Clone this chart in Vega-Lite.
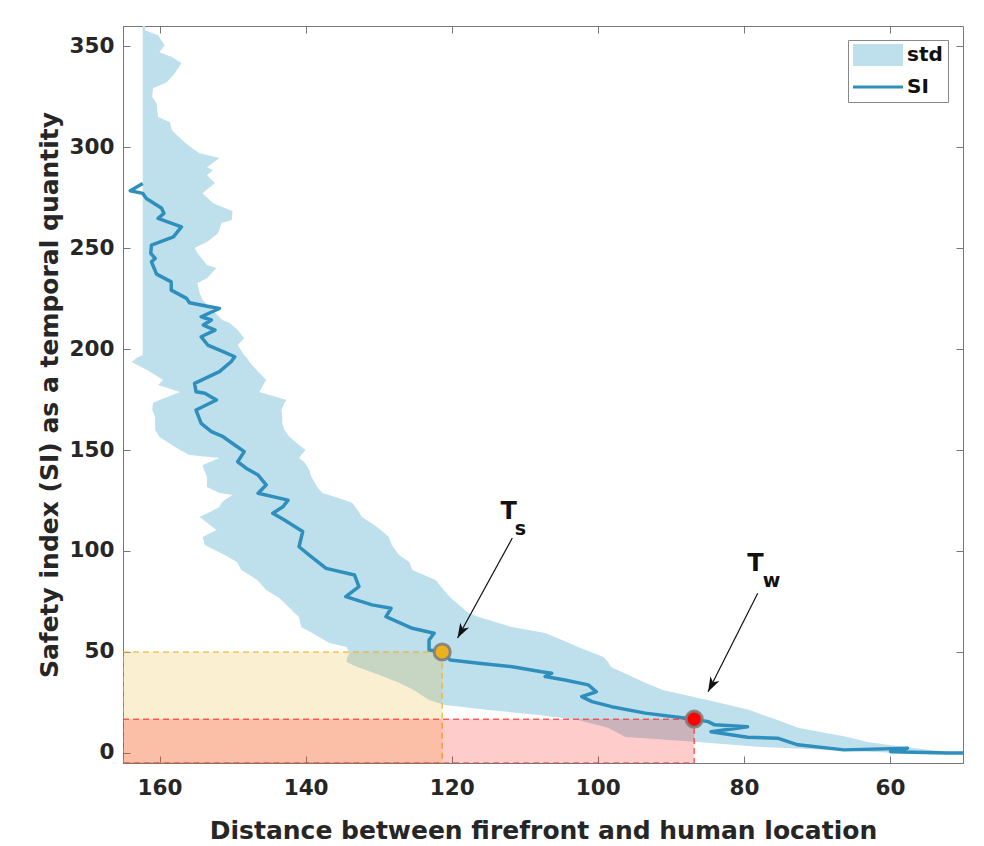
{
  "$schema": "https://vega.github.io/schema/vega-lite/v6.json",
  "width": 840,
  "height": 737,
  "autosize": {"type": "none"},
  "padding": {"left": 123, "top": 26, "right": 21, "bottom": 83},
  "background": "white",
  "view": {"stroke": "#777", "strokeWidth": 1},
  "config": {
    "font": "DejaVu Sans",
    "axis": {
      "labelFont": "DejaVu Sans", "labelFontWeight": "bold", "labelFontSize": 21.5, "labelColor": "#262626",
      "titleFont": "DejaVu Sans", "titleFontWeight": "bold", "titleFontSize": 25, "titleColor": "#262626",
      "domainColor": "#777", "tickColor": "#777", "tickSize": -7, "grid": false
    },
    "legend": {
      "labelFont": "DejaVu Sans", "labelFontWeight": "bold", "labelFontSize": 20, "labelColor": "#111",
      "title": null, "orient": "none", "legendX": 725, "legendY": 14, "padding": 5,
      "strokeColor": "#888", "fillColor": "white", "rowPadding": 11,
      "symbolSize": 400, "labelOffset": 34, "symbolOpacity": 1, "symbolStrokeWidth": 0
    }
  },
  "datasets": {
    "band": [
      {"y": 362, "lo": 162.0, "hi": 162.3},
      {"y": 357.9, "lo": 162.0, "hi": 162.3},
      {"y": 355.4, "lo": 160.2, "hi": 162.3},
      {"y": 350.5, "lo": 159.3, "hi": 162.3},
      {"y": 347.0, "lo": 160.0, "hi": 162.3},
      {"y": 344.6, "lo": 158.3, "hi": 162.3},
      {"y": 341.6, "lo": 157.0, "hi": 162.3},
      {"y": 336.6, "lo": 157.9, "hi": 162.3},
      {"y": 332.2, "lo": 159.0, "hi": 162.3},
      {"y": 329.2, "lo": 160.9, "hi": 162.3},
      {"y": 324.8, "lo": 161.0, "hi": 162.3},
      {"y": 321.8, "lo": 160.4, "hi": 162.3},
      {"y": 314.9, "lo": 160.2, "hi": 162.3},
      {"y": 312.4, "lo": 158.6, "hi": 162.3},
      {"y": 308.4, "lo": 158.3, "hi": 162.3},
      {"y": 304.5, "lo": 157.2, "hi": 162.3},
      {"y": 301.0, "lo": 156.1, "hi": 162.3},
      {"y": 297.0, "lo": 154.5, "hi": 162.3},
      {"y": 294.6, "lo": 151.8, "hi": 162.3},
      {"y": 290.1, "lo": 153.5, "hi": 162.3},
      {"y": 288.6, "lo": 152.7, "hi": 162.3},
      {"y": 286.1, "lo": 153.5, "hi": 162.3},
      {"y": 282.2, "lo": 152.4, "hi": 162.3},
      {"y": 277.2, "lo": 154.1, "hi": 162.3},
      {"y": 272.3, "lo": 152.7, "hi": 162.3},
      {"y": 268.3, "lo": 150.0, "hi": 162.3},
      {"y": 263.9, "lo": 150.1, "hi": 162.3},
      {"y": 262.4, "lo": 151.5, "hi": 162.3},
      {"y": 257.4, "lo": 152.0, "hi": 162.3},
      {"y": 253.0, "lo": 153.5, "hi": 162.3},
      {"y": 250.0, "lo": 155.2, "hi": 162.3},
      {"y": 247.5, "lo": 154.8, "hi": 162.3},
      {"y": 241.6, "lo": 153.5, "hi": 162.3},
      {"y": 240.1, "lo": 152.2, "hi": 162.3},
      {"y": 235.1, "lo": 153.5, "hi": 162.3},
      {"y": 232.7, "lo": 154.8, "hi": 162.3},
      {"y": 227.7, "lo": 154.5, "hi": 162.3},
      {"y": 224.3, "lo": 154.1, "hi": 162.3},
      {"y": 214.4, "lo": 151.4, "hi": 162.3},
      {"y": 212.9, "lo": 150.4, "hi": 162.3},
      {"y": 209.4, "lo": 149.3, "hi": 162.3},
      {"y": 205.4, "lo": 148.4, "hi": 162.3},
      {"y": 202.0, "lo": 149.3, "hi": 162.3},
      {"y": 197.0, "lo": 148.4, "hi": 162.3},
      {"y": 196.0, "lo": 148.1, "hi": 163.0},
      {"y": 193.6, "lo": 147.7, "hi": 163.8},
      {"y": 189.6, "lo": 146.7, "hi": 161.7},
      {"y": 184.7, "lo": 145.4, "hi": 159.5},
      {"y": 182.2, "lo": 145.8, "hi": 160.2},
      {"y": 178.7, "lo": 146.3, "hi": 157.2},
      {"y": 174.8, "lo": 142.6, "hi": 160.0},
      {"y": 173.3, "lo": 142.9, "hi": 160.9},
      {"y": 169.8, "lo": 143.3, "hi": 161.0},
      {"y": 166.3, "lo": 143.2, "hi": 160.6},
      {"y": 163.4, "lo": 143.2, "hi": 160.6},
      {"y": 159.9, "lo": 142.9, "hi": 160.6},
      {"y": 156.4, "lo": 142.2, "hi": 160.0},
      {"y": 152.5, "lo": 140.9, "hi": 158.3},
      {"y": 150.0, "lo": 140.0, "hi": 157.2},
      {"y": 147.5, "lo": 140.6, "hi": 155.9},
      {"y": 146.0, "lo": 140.9, "hi": 151.8},
      {"y": 144.1, "lo": 140.2, "hi": 153.1},
      {"y": 142.6, "lo": 139.9, "hi": 154.1},
      {"y": 140.1, "lo": 139.5, "hi": 153.9},
      {"y": 136.6, "lo": 139.2, "hi": 153.5},
      {"y": 131.7, "lo": 138.4, "hi": 153.5},
      {"y": 128.7, "lo": 137.7, "hi": 151.8},
      {"y": 127.7, "lo": 136.8, "hi": 150.0},
      {"y": 125.2, "lo": 134.7, "hi": 151.1},
      {"y": 123.8, "lo": 133.6, "hi": 151.5},
      {"y": 121.8, "lo": 133.2, "hi": 151.8},
      {"y": 119.3, "lo": 132.7, "hi": 153.1},
      {"y": 116.8, "lo": 132.3, "hi": 154.5},
      {"y": 112.9, "lo": 130.6, "hi": 153.1},
      {"y": 110.4, "lo": 129.7, "hi": 152.2},
      {"y": 106.9, "lo": 128.6, "hi": 154.1},
      {"y": 103.0, "lo": 128.2, "hi": 153.8},
      {"y": 98.0, "lo": 127.2, "hi": 151.1},
      {"y": 94.6, "lo": 125.8, "hi": 149.4},
      {"y": 90.6, "lo": 125.4, "hi": 148.8},
      {"y": 88.1, "lo": 123.8, "hi": 147.7},
      {"y": 85.6, "lo": 122.2, "hi": 146.6},
      {"y": 80.7, "lo": 121.1, "hi": 145.4},
      {"y": 76.7, "lo": 120.1, "hi": 143.6},
      {"y": 73.3, "lo": 119.0, "hi": 142.6},
      {"y": 69.3, "lo": 117.7, "hi": 141.5},
      {"y": 67.3, "lo": 116.3, "hi": 140.9},
      {"y": 62.4, "lo": 111.8, "hi": 140.6},
      {"y": 59.4, "lo": 107.2, "hi": 139.1},
      {"y": 54.5, "lo": 104.0, "hi": 136.8},
      {"y": 52.5, "lo": 102.7, "hi": 134.4},
      {"y": 49.5, "lo": 100.6, "hi": 134.0},
      {"y": 47.5, "lo": 99.2, "hi": 134.3},
      {"y": 45.0, "lo": 98.6, "hi": 134.4},
      {"y": 42.6, "lo": 98.2, "hi": 132.9},
      {"y": 38.6, "lo": 95.8, "hi": 129.9},
      {"y": 34.7, "lo": 93.5, "hi": 127.2},
      {"y": 31.2, "lo": 91.1, "hi": 125.2},
      {"y": 26.2, "lo": 85.0, "hi": 123.1},
      {"y": 23.8, "lo": 82.2, "hi": 121.1},
      {"y": 21.3, "lo": 79.2, "hi": 115.0},
      {"y": 18.8, "lo": 77.4, "hi": 108.1},
      {"y": 16.3, "lo": 75.4, "hi": 102.7},
      {"y": 12.4, "lo": 72.6, "hi": 98.6},
      {"y": 7.9, "lo": 65.8, "hi": 96.2},
      {"y": 5.4, "lo": 63.1, "hi": 86.3},
      {"y": 3.0, "lo": 58.3, "hi": 78.1},
      {"y": 1.5, "lo": 54.5, "hi": 68.1},
      {"y": 0, "lo": 50.0, "hi": 59.0}
    ],
    "si": [
      {"i": 1, "x": 162.3, "y": 282.0}, {"i": 2, "x": 164.0, "y": 278.4}, {"i": 3, "x": 162.3, "y": 277.1},
      {"i": 4, "x": 161.8, "y": 274.6}, {"i": 5, "x": 159.7, "y": 269.7}, {"i": 6, "x": 159.4, "y": 267.2},
      {"i": 7, "x": 160.2, "y": 264.7}, {"i": 8, "x": 157.0, "y": 260.5}, {"i": 9, "x": 158.1, "y": 255.6},
      {"i": 10, "x": 161.1, "y": 251.5}, {"i": 11, "x": 161.2, "y": 247.4}, {"i": 12, "x": 160.6, "y": 244.9},
      {"i": 13, "x": 161.1, "y": 243.2}, {"i": 14, "x": 160.4, "y": 237.1}, {"i": 15, "x": 158.4, "y": 233.3},
      {"i": 16, "x": 158.4, "y": 229.2}, {"i": 17, "x": 156.3, "y": 225.1}, {"i": 18, "x": 155.9, "y": 222.9},
      {"i": 18.5, "x": 153.1, "y": 221.0},
      {"i": 19, "x": 151.8, "y": 220.1}, {"i": 20, "x": 154.3, "y": 216.0}, {"i": 21, "x": 152.9, "y": 214.4},
      {"i": 22, "x": 154.0, "y": 211.9}, {"i": 23, "x": 152.4, "y": 209.4}, {"i": 24, "x": 154.3, "y": 206.1},
      {"i": 25, "x": 153.4, "y": 202.0}, {"i": 26, "x": 151.3, "y": 198.7}, {"i": 27, "x": 149.7, "y": 196.2},
      {"i": 28, "x": 150.2, "y": 193.7}, {"i": 29, "x": 151.8, "y": 188.8}, {"i": 30, "x": 155.2, "y": 183.0},
      {"i": 31, "x": 155.0, "y": 178.9}, {"i": 32, "x": 153.8, "y": 178.1}, {"i": 33, "x": 152.2, "y": 174.8},
      {"i": 34, "x": 155.0, "y": 169.8}, {"i": 35, "x": 154.3, "y": 163.2}, {"i": 36, "x": 152.9, "y": 159.1},
      {"i": 37, "x": 151.3, "y": 156.6}, {"i": 38, "x": 149.7, "y": 152.5}, {"i": 39, "x": 148.4, "y": 149.2},
      {"i": 40, "x": 149.3, "y": 144.2}, {"i": 41, "x": 148.1, "y": 140.9}, {"i": 42, "x": 146.5, "y": 137.6},
      {"i": 43, "x": 145.4, "y": 132.7}, {"i": 44, "x": 146.5, "y": 128.6}, {"i": 45, "x": 142.4, "y": 125.2},
      {"i": 46, "x": 143.1, "y": 121.9}, {"i": 47, "x": 144.5, "y": 118.7}, {"i": 48, "x": 142.9, "y": 115.3},
      {"i": 49, "x": 140.4, "y": 109.6}, {"i": 50, "x": 140.9, "y": 102.1}, {"i": 51, "x": 139.5, "y": 98.0},
      {"i": 52, "x": 137.2, "y": 91.4}, {"i": 53, "x": 133.3, "y": 88.1}, {"i": 54, "x": 132.7, "y": 82.3},
      {"i": 55, "x": 134.5, "y": 77.4}, {"i": 56, "x": 130.9, "y": 73.3}, {"i": 57, "x": 128.3, "y": 71.6},
      {"i": 58, "x": 129.0, "y": 67.5}, {"i": 59, "x": 125.4, "y": 61.7}, {"i": 60, "x": 122.4, "y": 59.3},
      {"i": 61, "x": 123.1, "y": 55.9}, {"i": 62, "x": 123.1, "y": 51.0}, {"i": 63, "x": 121.3, "y": 50.0},
      {"i": 64, "x": 120.2, "y": 46.0}, {"i": 65, "x": 116.3, "y": 44.4}, {"i": 66, "x": 111.7, "y": 42.7},
      {"i": 67, "x": 107.7, "y": 40.2}, {"i": 68, "x": 106.3, "y": 39.5}, {"i": 69, "x": 107.2, "y": 37.8},
      {"i": 70, "x": 104.5, "y": 36.1}, {"i": 71, "x": 101.3, "y": 33.7}, {"i": 72, "x": 100.2, "y": 30.3},
      {"i": 73, "x": 102.2, "y": 27.9}, {"i": 74, "x": 100.8, "y": 25.4}, {"i": 75, "x": 98.1, "y": 22.9},
      {"i": 76, "x": 93.5, "y": 19.7}, {"i": 77, "x": 89.0, "y": 17.7}, {"i": 78, "x": 86.8, "y": 16.7},
      {"i": 79, "x": 84.9, "y": 15.5}, {"i": 80, "x": 84.0, "y": 13.9}, {"i": 81, "x": 79.5, "y": 13.0},
      {"i": 82, "x": 84.5, "y": 10.5}, {"i": 83, "x": 79.5, "y": 7.8}, {"i": 84, "x": 75.4, "y": 7.3},
      {"i": 85, "x": 72.6, "y": 4.0}, {"i": 86, "x": 66.3, "y": 1.5}, {"i": 87, "x": 57.6, "y": 2.3},
      {"i": 88, "x": 59.9, "y": 0.6}, {"i": 89, "x": 52.2, "y": 0}, {"i": 90, "x": 50.0, "y": 0}
    ],
    "rects": [
      {"name": "Ts", "x": 165, "x2": 121.3, "y": -5, "y2": 50},
      {"name": "Tw", "x": 165, "x2": 86.8, "y": -5, "y2": 16.7}
    ],
    "pts": [
      {"name": "Ts", "x": 121.3, "y": 50.0},
      {"name": "Tw", "x": 86.8, "y": 16.7}
    ],
    "arrows": [
      {"name": "Ts", "x": 111.7, "y": 106.4, "x2": 119.2, "y2": 56.9, "angle": 208.8},
      {"name": "Tw", "x": 78.1, "y": 79.1, "x2": 84.9, "y2": 30.3, "angle": 207.5}
    ],
    "labels": [
      {"t": "T", "x": 112.2, "y": 119.1, "sz": 24},
      {"t": "s", "x": 110.6, "y": 110.9, "sz": 19},
      {"t": "T", "x": 78.4, "y": 93.6, "sz": 24},
      {"t": "w", "x": 76.2, "y": 85.1, "sz": 19}
    ],
    "keys": [
      {"k": "std"},
      {"k": "SI"}
    ]
  },
  "layer": [
    {
      "data": {"name": "band"},
      "mark": {"type": "area", "orient": "horizontal", "clip": true, "opacity": 1},
      "encoding": {
        "y": {"field": "y", "type": "quantitative", "scale": {"domain": [-5, 360], "nice": false, "zero": false},
              "axis": {"orient": "left", "values": [0, 50, 100, 150, 200, 250, 300, 350], "title": "Safety index (SI) as a temporal quantity", "labelPadding": 16, "titlePadding": 7}},
        "x": {"field": "hi", "type": "quantitative", "scale": {"domain": [165, 50], "nice": false, "zero": false},
              "axis": {"orient": "bottom", "values": [60, 80, 100, 120, 140, 160], "title": "Distance between firefront and human location", "labelPadding": 21, "titlePadding": 20}},
        "x2": {"field": "lo"},
        "color": {"datum": "std", "type": "nominal",
                  "scale": {"domain": ["std", "SI"], "range": ["#BEE0EC", "#2F8FBC"]},
                  "legend": {"title": null}}
      }
    },
    {
      "data": {"name": "si"},
      "mark": {"type": "line", "clip": true, "strokeWidth": 3.5, "strokeJoin": "round"},
      "encoding": {
        "x": {"field": "x", "type": "quantitative", "axis": null},
        "y": {"field": "y", "type": "quantitative", "axis": null},
        "order": {"field": "i", "type": "quantitative"},
        "color": {"datum": "SI", "type": "nominal"}
      }
    },
    {
      "data": {"name": "keys"},
      "mark": {"type": "point", "filled": true, "opacity": 0, "strokeWidth": 0},
      "encoding": {
        "shape": {"field": "k", "type": "nominal",
                  "scale": {"domain": ["std", "SI"], "range": ["M-1,-1.1H4V1.1H-1Z", "M-1,-0.16H4V0.16H-1Z"]},
                  "legend": {"title": null}}
      }
    },
    {
      "data": {"name": "rects"},
      "mark": {"type": "rect", "clip": true, "strokeDash": [6, 4], "strokeWidth": 1.5, "fillOpacity": 0.2, "strokeOpacity": 0.75},
      "encoding": {
        "x": {"field": "x", "type": "quantitative", "axis": null},
        "x2": {"field": "x2"},
        "y": {"field": "y", "type": "quantitative", "axis": null},
        "y2": {"field": "y2"},
        "fill": {"field": "name", "type": "nominal", "scale": {"domain": ["Ts", "Tw"], "range": ["#EDB120", "#FF0000"]}, "legend": null},
        "stroke": {"field": "name", "type": "nominal", "scale": {"domain": ["Ts", "Tw"], "range": ["#EDB120", "#FF3030"]}, "legend": null}
      }
    },
    {
      "data": {"name": "arrows"},
      "mark": {"type": "rule", "color": "#111", "strokeWidth": 1.2},
      "encoding": {
        "x": {"field": "x", "type": "quantitative", "axis": null},
        "y": {"field": "y", "type": "quantitative", "axis": null},
        "x2": {"field": "x2"},
        "y2": {"field": "y2"}
      }
    },
    {
      "data": {"name": "arrows"},
      "mark": {"type": "point", "filled": true, "color": "#111", "size": 340, "opacity": 1,
               "shape": "M0,0L0.55,1.6L0,1.15L-0.55,1.6Z"},
      "encoding": {
        "x": {"field": "x2", "type": "quantitative", "axis": null},
        "y": {"field": "y2", "type": "quantitative", "axis": null},
        "angle": {"field": "angle", "type": "quantitative", "scale": null}
      }
    },
    {
      "data": {"name": "pts"},
      "mark": {"type": "point", "filled": true, "size": 260, "stroke": "#808080", "strokeWidth": 3, "opacity": 1, "strokeOpacity": 0.9},
      "encoding": {
        "x": {"field": "x", "type": "quantitative", "axis": null},
        "y": {"field": "y", "type": "quantitative", "axis": null},
        "fill": {"field": "name", "type": "nominal", "scale": {"domain": ["Ts", "Tw"], "range": ["#EDB120", "#FF0000"]}, "legend": null}
      }
    },
    {
      "data": {"name": "labels"},
      "mark": {"type": "text", "font": "DejaVu Sans", "fontWeight": "bold", "color": "#111", "align": "center", "baseline": "middle"},
      "encoding": {
        "x": {"field": "x", "type": "quantitative", "axis": null},
        "y": {"field": "y", "type": "quantitative", "axis": null},
        "text": {"field": "t"},
        "size": {"field": "sz", "type": "quantitative", "scale": null}
      }
    },
    {
      "data": {"values": [{"a": 1}]},
      "mark": {"type": "point", "opacity": 0},
      "encoding": {
        "x": {"datum": 100, "type": "quantitative",
              "axis": {"orient": "top", "values": [60, 80, 100, 120, 140, 160], "labels": false, "title": null, "domain": false}},
        "y": {"datum": 100, "type": "quantitative",
              "axis": {"orient": "right", "values": [0, 50, 100, 150, 200, 250, 300, 350], "labels": false, "title": null, "domain": false}}
      }
    }
  ],
  "resolve": {"axis": {"x": "independent", "y": "independent"}}
}
